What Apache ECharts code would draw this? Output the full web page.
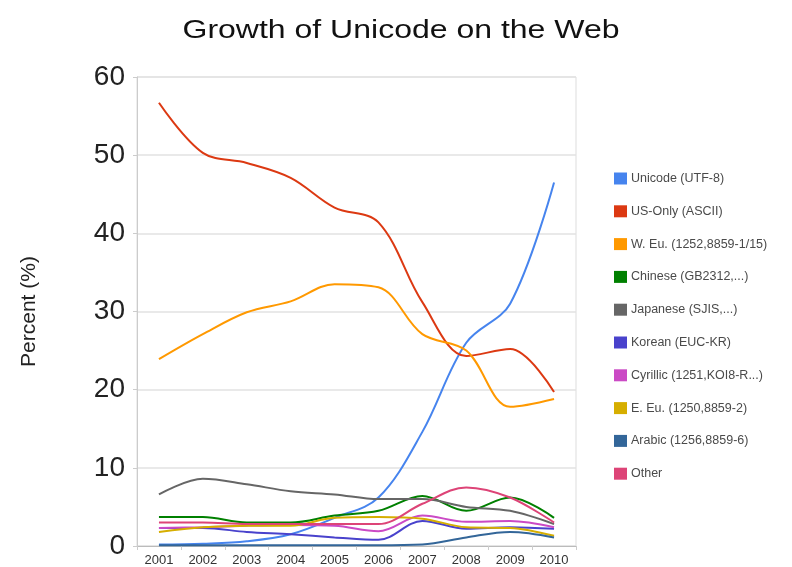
<!DOCTYPE html>
<html>
<head>
<meta charset="utf-8">
<script src="https://cdn.jsdelivr.net/npm/echarts@6/dist/echarts.min.js"></script>
<style>
  html, body { margin: 0; padding: 0; background: #fff; }
  #chart { width: 792px; height: 567px; }
</style>
</head>
<body>
<div id="chart"></div>
<script>
// Share of web pages by character encoding, percent per year
const years = ['2001', '2002', '2003', '2004', '2005', '2006', '2007', '2008', '2009', '2010'];

const unicodeUtf8 = [0.2, 0.3, 0.6, 1.5, 3.6, 6.2, 14.6, 26.0, 31.0, 46.5];
const usAscii     = [56.7, 50.3, 49.0, 47.1, 43.3, 41.4, 31.2, 24.3, 25.2, 19.7];
const westernEu   = [23.9, 27.1, 29.9, 31.3, 33.5, 33.1, 27.1, 25.0, 17.8, 18.8];
const chinese     = [3.7, 3.7, 3.0, 3.0, 3.9, 4.5, 6.4, 4.5, 6.2, 3.6];
const japanese    = [6.6, 8.6, 7.9, 7.0, 6.6, 6.0, 6.0, 5.0, 4.5, 2.8];
const korean      = [2.3, 2.3, 1.8, 1.5, 1.1, 0.8, 3.2, 2.2, 2.4, 2.2];
const cyrillic    = [2.3, 2.4, 2.6, 2.7, 2.6, 1.9, 3.9, 3.1, 3.2, 2.4];
const easternEu   = [1.8, 2.4, 2.6, 2.6, 3.6, 3.7, 3.5, 2.4, 2.3, 1.3];
const arabic      = [0.1, 0.1, 0.1, 0.1, 0.1, 0.1, 0.2, 1.1, 1.8, 1.1];
const other       = [3.0, 3.0, 2.8, 2.8, 2.8, 2.8, 5.4, 7.5, 6.2, 3.0];

const yTicks = [0, 10, 20, 30, 40, 50, 60];

const seriesDefs = [
  { name: 'Unicode (UTF-8)',          data: unicodeUtf8, color: '#4684ee' },
  { name: 'US-Only (ASCII)',          data: usAscii,     color: '#dc3912' },
  { name: 'W. Eu. (1252,8859-1/15)',  data: westernEu,   color: '#ff9900' },
  { name: 'Chinese (GB2312,...)',     data: chinese,     color: '#008000' },
  { name: 'Japanese (SJIS,...)',      data: japanese,    color: '#666666' },
  { name: 'Korean (EUC-KR)',          data: korean,      color: '#4942cc' },
  { name: 'Cyrillic (1251,KOI8-R...)',data: cyrillic,    color: '#cb4ac5' },
  { name: 'E. Eu. (1250,8859-2)',     data: easternEu,   color: '#d6ae00' },
  { name: 'Arabic (1256,8859-6)',     data: arabic,      color: '#336699' },
  { name: 'Other',                    data: other,       color: '#dd4477' }
];

const font = '"Liberation Sans", Arial, sans-serif';
const chart = echarts.init(document.getElementById('chart'), null, { renderer: 'canvas' });

chart.setOption({
  animation: false,
  backgroundColor: '#fff',
  color: seriesDefs.map(s => s.color),
  graphic: [{
    type: 'text',
    x: 401,
    y: 31,
    scaleX: 1.28,
    style: {
      text: 'Growth of Unicode on the Web',
      font: '25px ' + font,
      fill: '#111',
      textAlign: 'center',
      textVerticalAlign: 'middle',
      align: 'center',
      verticalAlign: 'middle'
    }
  }],
  grid: {
    left: 137, right: 216, top: 77, bottom: 20,
    show: true, borderColor: '#dddddd', borderWidth: 1
  },
  legend: {
    orient: 'vertical',
    left: 614,
    top: 172,
    padding: 0,
    icon: 'rect',
    itemWidth: 13,
    itemHeight: 12,
    itemGap: 19.8,
    textStyle: { fontFamily: font, fontSize: 12.5, color: '#4a4a4a', padding: [0, 0, 0, -1] },
    data: seriesDefs.map(s => s.name)
  },
  xAxis: {
    type: 'category',
    data: years,
    boundaryGap: true,
    axisLine: { lineStyle: { color: '#bbbbbb', width: 1 } },
    axisTick: { show: true, length: 4, lineStyle: { color: '#cccccc' } },
    axisLabel: { fontFamily: font, fontSize: 13, color: '#333', margin: 8 },
    splitLine: { show: false }
  },
  yAxis: {
    type: 'value',
    min: yTicks[0],
    max: yTicks[yTicks.length - 1],
    interval: 10,
    name: 'Percent (%)',
    nameLocation: 'middle',
    nameGap: 97,
    nameTextStyle: { fontFamily: font, fontSize: 21, color: '#222' },
    axisLine: { show: true, lineStyle: { color: '#cccccc', width: 1 } },
    axisTick: { show: true, length: 4, lineStyle: { color: '#cccccc' } },
    axisLabel: { fontFamily: font, fontSize: 28, color: '#222', margin: 12 },
    splitLine: { lineStyle: { color: '#e2e2e2', width: 1.5 } }
  },
  series: seriesDefs.map(s => ({
    name: s.name,
    type: 'line',
    data: s.data,
    smooth: 0.35,
    showSymbol: false,
    symbol: 'none',
    lineStyle: { width: 2, color: s.color },
    itemStyle: { color: s.color }
  }))
});
</script>
</body>
</html>
